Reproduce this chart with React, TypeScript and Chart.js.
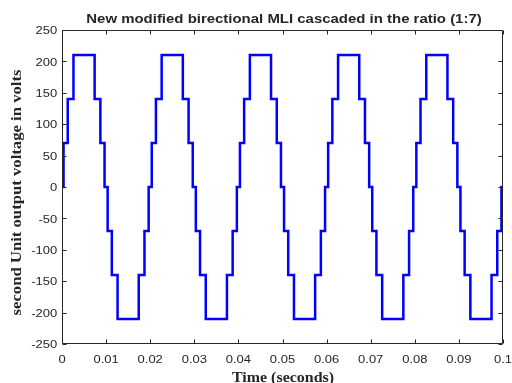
import React, { useEffect, useRef } from "react";
import { Chart, registerables } from "chart.js";

Chart.register(...registerables);

// Transition instants (s) and the level (V) reached at each instant
const timeSeconds = [
  0, 0.00035, 0.0013, 0.0026, 0.0074, 0.0087, 0.00965, 0.01035, 0.0113, 0.0126, 0.0174, 0.0187, 0.01965,
  0.02035, 0.0213, 0.0226, 0.0274, 0.0287, 0.02965, 0.03035, 0.0313, 0.0326, 0.0374, 0.0387, 0.03965,
  0.04035, 0.0413, 0.0426, 0.0474, 0.0487, 0.04965, 0.05035, 0.0513, 0.0526, 0.0574, 0.0587, 0.05965,
  0.06035, 0.0613, 0.0626, 0.0674, 0.0687, 0.06965, 0.07035, 0.0713, 0.0726, 0.0774, 0.0787, 0.07965,
  0.08035, 0.0813, 0.0826, 0.0874, 0.0887, 0.08965, 0.09035, 0.0913, 0.0926, 0.0974, 0.0987, 0.09965,
  0.1,
];
const outputVolts = [
  0, 70, 140, 210, 140, 70, 0, -70, -140, -210, -140, -70, 0,
  70, 140, 210, 140, 70, 0, -70, -140, -210, -140, -70, 0,
  70, 140, 210, 140, 70, 0, -70, -140, -210, -140, -70, 0,
  70, 140, 210, 140, 70, 0, -70, -140, -210, -140, -70, 0,
  70, 140, 210, 140, 70, 0, -70, -140, -210, -140, -70, 0,
  0,
];

const xTickValues = [0, 0.01, 0.02, 0.03, 0.04, 0.05, 0.06, 0.07, 0.08, 0.09, 0.1];
const xTickLabels = ["0", "0.01", "0.02", "0.03", "0.04", "0.05", "0.06", "0.07", "0.08", "0.09", "0.1"];
const yTickValues = [-250, -200, -150, -100, -50, 0, 50, 100, 150, 200, 250];
const yTickLabels = ["-250", "-200", "-150", "-100", "-50", "0", "50", "100", "150", "200", "250"];

const titleText = "New modified birectional MLI cascaded in the ratio (1:7)";
const xTitleText = "Time (seconds)";
const yTitleText = "second Unit output voltage in volts";

const SANS = '"Liberation Sans", Arial, sans-serif';
const SERIF = '"Liberation Serif", "Times New Roman", serif';
const AXIS_COLOR = "#262626";

function stretchedText(
  ctx: CanvasRenderingContext2D,
  text: string,
  x: number,
  y: number,
  font: string,
  sx: number,
  align: CanvasTextAlign,
  rotate = 0
) {
  ctx.save();
  ctx.translate(x, y);
  if (rotate) ctx.rotate(rotate);
  ctx.scale(sx, 1);
  ctx.font = font;
  ctx.textAlign = align;
  ctx.textBaseline = "alphabetic";
  ctx.fillStyle = AXIS_COLOR;
  ctx.fillText(text, 0, 0);
  ctx.restore();
}

const framePlugin = {
  id: "matlabFrame",
  afterDraw(chart: any) {
    const ctx: CanvasRenderingContext2D = chart.ctx;
    const { left, right, top, bottom } = chart.chartArea;
    const xs = chart.scales.x;
    const ys = chart.scales.y;
    const L = Math.round(left) + 0.5;
    const R = Math.round(right) - 0.5;
    const T = Math.round(top) + 0.5;
    const B = Math.round(bottom) - 0.5;
    const tick = 4;

    ctx.save();
    ctx.strokeStyle = AXIS_COLOR;
    ctx.lineWidth = 1;
    ctx.beginPath();
    ctx.rect(L, T, R - L, B - T);
    xTickValues.forEach((v) => {
      const px = Math.round(xs.getPixelForValue(v)) + 0.5;
      ctx.moveTo(px, B);
      ctx.lineTo(px, B - tick);
      ctx.moveTo(px, T);
      ctx.lineTo(px, T + tick);
    });
    yTickValues.forEach((v) => {
      const py = Math.round(ys.getPixelForValue(v)) + 0.5;
      ctx.moveTo(L, py);
      ctx.lineTo(L + tick, py);
      ctx.moveTo(R, py);
      ctx.lineTo(R - tick, py);
    });
    ctx.stroke();
    ctx.restore();

    const tickSize = 11.5;
    const tickFont = `${tickSize}px ${SANS}`;
    const tickStretch = 1.13;
    xTickValues.forEach((v, i) => {
      stretchedText(ctx, xTickLabels[i], xs.getPixelForValue(v), 363.4, tickFont, tickStretch, "center");
    });
    yTickValues.forEach((v, i) => {
      stretchedText(ctx, yTickLabels[i], 57.3, ys.getPixelForValue(v) + 0.358 * tickSize, tickFont, tickStretch, "right");
    });

    stretchedText(ctx, titleText, 284, 22.5, `bold 13px ${SANS}`, 1.15, "center");
    stretchedText(ctx, xTitleText, 283, 381.5, `bold 14px ${SERIF}`, 1.14, "center");
    stretchedText(ctx, yTitleText, 20.6, 192.5, `bold 14.5px ${SERIF}`, 1.15, "center", -Math.PI / 2);
  },
};

export default function App() {
  const canvasRef = useRef<HTMLCanvasElement | null>(null);

  useEffect(() => {
    document.body.style.margin = "0";
    const canvas = canvasRef.current;
    if (!canvas) return;
    const points = timeSeconds.map((t, i) => ({ x: t, y: outputVolts[i] }));
    const chart = new Chart(canvas, {
      type: "line",
      data: {
        datasets: [
          {
            data: points,
            borderColor: "#0000FF",
            backgroundColor: "#0000FF",
            borderWidth: 2.5,
            pointRadius: 0,
            stepped: true,
            fill: false,
          },
        ],
      },
      options: {
        animation: false,
        responsive: false,
        devicePixelRatio: 1,
        layout: { padding: { top: 30, right: 9, left: 0, bottom: 0 } },
        plugins: {
          legend: { display: false },
          title: { display: false },
          tooltip: { enabled: false },
        },
        scales: {
          x: {
            type: "linear",
            min: 0,
            max: 0.1,
            ticks: { display: false, stepSize: 0.01 },
            grid: { display: false },
            border: { display: false },
            afterFit: (scale: any) => {
              scale.height = 39;
            },
          },
          y: {
            type: "linear",
            min: -250,
            max: 250,
            ticks: { display: false, stepSize: 50 },
            grid: { display: false },
            border: { display: false },
            afterFit: (scale: any) => {
              scale.width = 62;
            },
          },
        },
      },
      plugins: [framePlugin],
    } as any);
    return () => chart.destroy();
  }, []);

  return (
    <div style={{ width: 512, height: 383, background: "#ffffff" }}>
      <canvas ref={canvasRef} width={512} height={383} style={{ display: "block", width: 512, height: 383 }} />
    </div>
  );
}
